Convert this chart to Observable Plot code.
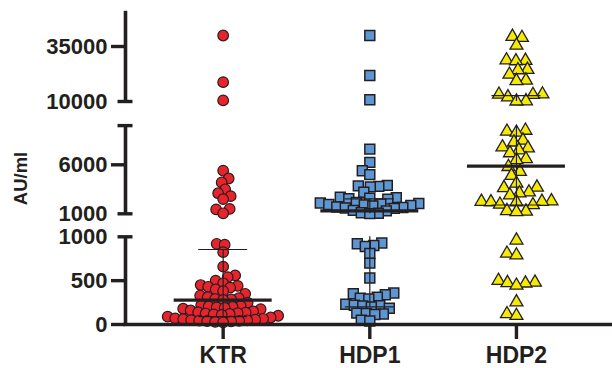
<!DOCTYPE html>
<html>
<head>
<meta charset="utf-8">
<script src="https://cdn.jsdelivr.net/npm/d3@7"></script>
<script src="https://cdn.jsdelivr.net/npm/@observablehq/plot@0.6"></script>
<style>
  html, body { margin: 0; padding: 0; background: #fff; }
  #chart { width: 612px; height: 368px; }
</style>
</head>
<body>
<div id="chart"></div>
<script>
// ---------------- data ----------------
const categories = ["KTR", "HDP1", "HDP2"];

const ktrValues = [
  40000, 18800, 10500,
  5400, 4600, 4200, 3500, 3100, 2800, 2500, 1500, 1450, 1050,
  920, 910, 825, 660, 560, 540, 500, 470, 450, 440,
  430, 420, 400, 380, 350, 330, 310, 300, 290, 285,
  280, 250, 220, 210, 205, 200, 195, 190, 180, 175, 160,
  150, 140, 135, 130, 125, 120, 115, 110, 100, 90, 80,
  70, 65, 60, 55, 50, 48, 45, 42, 40, 35, 30, 25
];

const hdp1Values = [
  40000, 21800, 10800,
  7600, 6250, 5400, 5000, 3900, 3850, 3800, 3750, 3200, 2700,
  2650, 2600, 2550, 2500, 2150, 2100, 2050, 2000, 1950, 1900,
  1850, 1800, 1700, 1650, 1600, 1550, 1350, 1300, 1100, 1050, 1020,
  930, 920, 900, 890, 810, 700, 530, 360, 350, 340,
  310, 300, 290, 230, 220, 215, 210, 200, 185, 130,
  125, 120, 115, 50, 40
];

const hdp2Values = [
  39500, 39000, 35500, 28800, 28600, 28400, 24500, 24300, 22300,
  19600, 19400, 13300, 13200, 13100, 12000, 10200, 10100,
  9500, 9400, 9300, 8500, 8300, 7800, 7700, 7500, 7200, 6600,
  6500, 5800, 5300, 4900, 4100, 3700, 3650, 3200, 3100, 2900,
  2300, 2250, 2250, 2200, 2200, 1950, 1900, 1300, 1250, 1200,
  960, 810, 790, 500, 480, 475, 470, 445, 255, 120, 100
];

const medianValues = [277, 1300, 5860];
const q1Values = [90, 200, 1900];
const q3Values = [855, 2530, 12700];

const yTickValues = [0, 500, 1000, 1000, 6000, 10000, 35000];
const yTickSegments = [0, 0, 0, 1, 1, 2, 2];
const yTickLabels = ["0", "500", "1000", "1000", "6000", "10000", "35000"];
const yTitle = "AU/ml";

// ---------------- layout (broken axis) ----------------
const SEG = [
  {lo: 0, hi: 1000, v0: 0, k: 0.0877},
  {lo: 1000, hi: 10000, v0: 110.7, k: 0.0098},
  {lo: 10000, hi: 51000, v0: 223, k: 0.0022}
];
function segOf(val) { return val <= 1000 ? 0 : val <= 10000 ? 1 : 2; }
function brk(val, s = segOf(val)) { const g = SEG[s]; return g.v0 + (val - g.lo) * g.k; }

const UNIT = 146.65;           // px per category
const X0 = -0.666;             // x of the y axis line (domain units)
const px = p => p / UNIT;      // pixel length -> x units

function swarm(vals, minDist) {
  const v = vals.map(d => brk(d));
  const order = d3.range(v.length).sort((a, b) => v[a] - v[b]);
  const offs = new Array(v.length);
  const placed = [];
  for (const i of order) {
    let chosen = 0, found = false;
    const flip = placed.length % 2 === 1;
    for (let k = 0; k <= 400 && !found; k++) {
      const c1 = k * 0.5;
      const cands = k === 0 ? [0] : (flip ? [-c1, c1] : [c1, -c1]);
      for (const c of cands) {
        if (placed.every(p => (p.x - c) ** 2 + (p.y - v[i]) ** 2 >= minDist * minDist)) {
          chosen = c; found = true; break;
        }
      }
    }
    placed.push({x: chosen, y: v[i]});
    offs[i] = chosen;
  }
  return v.map((vv, i) => ({v: vv, off: offs[i]}));
}

const series = [ktrValues, hdp1Values, hdp2Values];
const minDists = [7.6, 8.2, 9.2];
const pts = series.map((vals, ci) =>
  swarm(vals, minDists[ci]).map((p, j) => ({cat: categories[ci], value: vals[j], v: p.v, x: ci + px(p.off)}))
);

// axis pieces
const segLines = SEG.map((g, s) => ({y1: brk(g.lo, s), y2: brk(g.hi, s)}));
const caps = [
  {y: brk(1000, 0)}, {y: brk(1000, 1)}, {y: brk(10000, 1)}, {y: brk(10000, 2)}
];
const tickRows = yTickValues.map((t, i) => {
  const s = yTickSegments[i];
  const atEnd = t !== 0 && (t === SEG[s].lo || t === SEG[s].hi);
  return {v: brk(t, s), label: yTickLabels[i], atEnd};
});

// error bars split by segment
const errPieces = [];
categories.forEach((c, ci) => {
  SEG.forEach((g, s) => {
    const lo = Math.max(q1Values[ci], g.lo), hi = Math.min(q3Values[ci], g.hi);
    if (hi > lo) errPieces.push({x: ci, y1: brk(lo, s), y2: brk(hi, s)});
  });
});
const capRows = categories.flatMap((c, ci) => [
  {x: ci, y: brk(q1Values[ci])}, {x: ci, y: brk(q3Values[ci])}
]);
const medRows = categories.map((c, ci) => ({x: ci, y: brk(medianValues[ci])}));

const INK = "#231f20";
const FONT = "'Liberation Sans', Arial, Helvetica, sans-serif";

const chart = Plot.plot({
  width: 612,
  height: 368,
  marginTop: 0,
  marginBottom: 44,
  marginLeft: 125,
  marginRight: 0,
  style: {fontFamily: FONT, background: "#fff", overflow: "visible"},
  x: {domain: [X0, 2.655], axis: null},
  y: {domain: [0, 324], axis: null},
  marks: [
    // points
    Plot.dot(pts[0], {x: "x", y: "v", symbol: "circle", r: 5.3, fill: "#e8232b", stroke: INK, strokeWidth: 1.2}),
    Plot.dot(pts[1], {x: "x", y: "v", symbol: "square", r: 5.6, fill: "#5d96d2", stroke: INK, strokeWidth: 1.5}),
    Plot.dot(pts[2], {x: "x", y: "v", symbol: "triangle", r: 4.8, fill: "#f4ea06", stroke: INK, strokeWidth: 1.3}),
    // error bars
    Plot.ruleX(errPieces, {x: "x", y1: "y1", y2: "y2", stroke: INK, strokeWidth: 1.2}),
    Plot.ruleY(capRows, {y: "y", x1: d => d.x - px(24.5), x2: d => d.x + px(24.5), stroke: INK, strokeWidth: 1.2}),
    Plot.ruleY(medRows, {y: "y", x1: d => d.x - px(49), x2: d => d.x + px(49), stroke: INK, strokeWidth: 3.2}),
    // y axis segments
    Plot.ruleX(segLines, {x: () => X0, y1: "y1", y2: "y2", stroke: INK, strokeWidth: 3.6}),
    Plot.ruleY(caps, {y: "y", x1: () => X0 - px(7.5), x2: () => X0 + px(7.5), stroke: INK, strokeWidth: 3.4}),
    Plot.ruleY(tickRows.filter(d => !d.atEnd), {y: "v", x1: () => X0 - px(14), x2: () => X0, stroke: INK, strokeWidth: 3.4}),
    Plot.text(tickRows, {x: () => X0 - px(18), y: "v", text: "label", textAnchor: "end", fontSize: 22, fontWeight: "bold", fill: INK}),
    // x axis
    Plot.ruleY([0], {x1: () => X0 - px(1.8), x2: () => 2.655, stroke: INK, strokeWidth: 3.6}),
    Plot.ruleX(categories.map((c, i) => i), {x: d => d, y1: () => 0, y2: () => -15, stroke: INK, strokeWidth: 3.4}),
    Plot.text(categories, {x: (d, i) => i, y: () => 0, dy: 31, text: d => d, textAnchor: "middle", fontSize: 23, fontWeight: "bold", fill: INK}),
    // y title
    Plot.text([yTitle], {x: () => X0 - px(104), y: () => 146, text: d => d, rotate: -90, textAnchor: "middle", fontSize: 18.5, fontWeight: "bold", fill: INK})
  ]
});
document.getElementById("chart").appendChild(chart);
</script>
</body>
</html>
